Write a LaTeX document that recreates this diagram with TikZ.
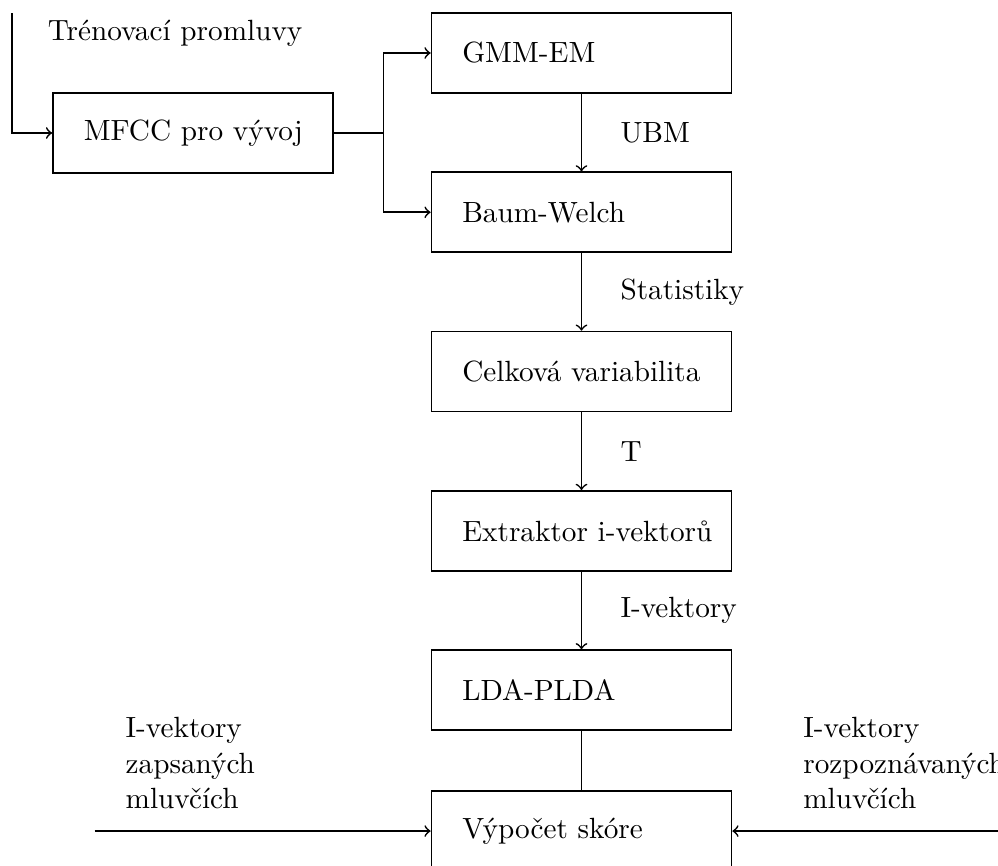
\documentclass[tikz,border=0pt]{standalone}
\usepackage{fontspec}
\usetikzlibrary{positioning}

\begin{document}
\begin{tikzpicture}[semithick, font=\fontsize{10.4pt}{12.5pt}\selectfont,
  blok/.style={draw, minimum height=1cm, inner xsep=0pt, text width=3.75cm, align=left,
    execute at begin node={\hspace*{0.385cm}}},
  popis/.style={right=0.36cm},
  vstupni/.style={anchor=west, align=left}]
\useasboundingbox (0,0) rectangle (12.475,-10.8125);
\node[blok, text width=3.5cm] (mfcc) at (2.4125,-1.6625) {MFCC pro vývoj};
\node[blok, right=1.21cm of mfcc, yshift=1cm] (gmm) {GMM-EM};
\node[blok, below=0.97cm of gmm] (baum) {Baum-Welch};
\node[blok, below=0.97cm of baum] (tv) {Celková variabilita};
\node[blok, below=0.97cm of tv] (ivex) {Extraktor i-vektorů};
\node[blok, below=0.97cm of ivex] (plda) {LDA-PLDA};
\node[blok, below=0.74cm of plda] (skore) {Výpočet skóre};
\coordinate (vstup) at ([xshift=-0.5cm, yshift=1.5cm]mfcc.west);
\node[vstupni] (trenovaci) at ([xshift=0.32cm, yshift=-0.25cm]vstup) {Trénovací promluvy};
\draw[->] (vstup) |- (mfcc.west);
\draw[->] (mfcc.east) -- ++(0.62,0) |- (gmm.west);
\draw[->] (mfcc.east) -- ++(0.62,0) |- (baum.west);
\draw[->] (gmm) -- node[popis] {UBM} (baum);
\draw[->] (baum) -- node[popis] {Statistiky} (tv);
\draw[->] (tv) -- node[popis] {T} (ivex);
\draw[->] (ivex) -- node[popis] {I-vektory} (plda);
\draw (plda) -- (skore);
\coordinate (zapsani) at ([xshift=-4.2cm]skore.west);
\coordinate (rozpoznavani) at ([xshift=4.2cm]skore.east);
\node[vstupni] (zapsanilabel) at ([xshift=0.26cm, yshift=0.85cm]zapsani) {I-vektory\\zapsaných\\mluvčích};
\node[vstupni] (rozpoznavanilabel) at ([xshift=0.76cm, yshift=0.85cm]skore.east) {I-vektory\\rozpoznávaných\\mluvčích};
\draw[->] (zapsani) -- (skore.west);
\draw[->] (rozpoznavani) -- (skore.east);
\end{tikzpicture}
\end{document}
